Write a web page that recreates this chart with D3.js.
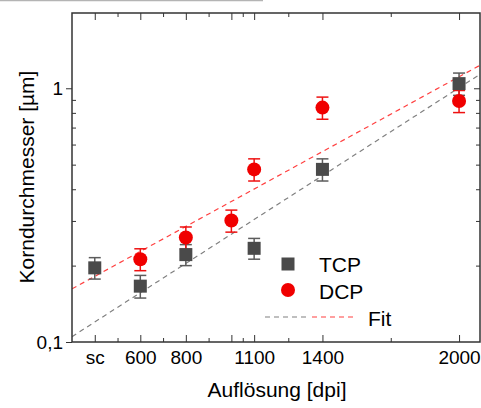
<!DOCTYPE html>
<meta charset="utf-8">
<title>Korndurchmesser</title>

<style>
    body { margin: 0; background: #fff; }
    text { font-family: Arial, "Liberation Sans", sans-serif; fill: #000; }
    .frame path, .frame line { stroke: #333; }
    .fit { fill: none; stroke-width: 1.2px; stroke-dasharray: 5,4; }
</style>

<body>
<script src="https://d3js.org/d3.v7.min.js"></script>

<script>
// data
var tcpDpi = [400, 600, 800, 1100, 1400, 2000];
var tcpVal = [0.196, 0.166, 0.221, 0.234, 0.479, 1.043];
var tcpErr = [0.019, 0.017, 0.021, 0.022, 0.048, 0.105];

var dcpDpi = [600, 800, 1000, 1100, 1400, 2000];
var dcpVal = [0.212, 0.258, 0.301, 0.479, 0.839, 0.891];
var dcpErr = [0.021, 0.026, 0.030, 0.048, 0.084, 0.089];

// fit lines (end points at the x range limits)
var fitDpi = [300, 2092];
var fitTcp = [0.105, 1.135];
var fitDcp = [0.162, 1.232];

var xTicks = [400, 600, 800, 1000, 1100, 1400, 2000];
var xTickLabels = ["sc", "600", "800", "", "1100", "1400", "2000"];
var xMinor = [500, 700, 900, 1050, 1250, 1700];
var yTicks = [0.1, 1];
var yTickLabels = ["0,1", "1"];
var yMinor = [0.2, 0.3, 0.4, 0.5, 0.6, 0.7, 0.8, 0.9];

// plot box
var W = 481, H = 408;
var pL = 72, pR = 480, pT = 13, pB = 342;

var svg = d3.select("body").append("svg")
    .attr("width", W)
    .attr("height", H);

var x = d3.scaleLinear().domain([300, 2092]).range([pL, pR]);
var y = d3.scaleLog().domain([0.1, 1.98]).range([pB, pT]);

// leftover grey line at the very top
svg.append("line")
    .attr("x1", 0).attr("x2", 263)
    .attr("y1", 0.5).attr("y2", 0.5)
    .style("stroke", "#b4b4b4")
    .style("stroke-width", 1.5);

// clip for the fit lines
svg.append("clipPath").attr("id", "plot")
  .append("rect")
    .attr("x", pL).attr("y", pT)
    .attr("width", pR - pL).attr("height", pB - pT);

// fit lines
var fitLine = d3.line()
    .x(function(d) { return x(d[0]); })
    .y(function(d) { return y(d[1]); });

svg.append("path")
    .attr("class", "fit")
    .attr("clip-path", "url(#plot)")
    .style("stroke", "#808080")
    .attr("d", fitLine(d3.zip(fitDpi, fitTcp)));

svg.append("path")
    .attr("class", "fit")
    .attr("clip-path", "url(#plot)")
    .style("stroke", "#ff4040")
    .attr("d", fitLine(d3.zip(fitDpi, fitDcp)));

// error bars
function errorBars(dpi, val, err, colour) {
    var g = svg.append("g").style("stroke", colour).style("stroke-width", 1.5);
    dpi.forEach(function(d, i) {
        var cx = x(d), y0 = y(val[i] - err[i]), y1 = y(val[i] + err[i]);
        g.append("line").attr("x1", cx).attr("x2", cx).attr("y1", y0).attr("y2", y1);
        g.append("line").attr("x1", cx - 6).attr("x2", cx + 6).attr("y1", y0).attr("y2", y0);
        g.append("line").attr("x1", cx - 6).attr("x2", cx + 6).attr("y1", y1).attr("y2", y1);
    });
}
errorBars(tcpDpi, tcpVal, tcpErr, "#5c5c5c");
errorBars(dcpDpi, dcpVal, dcpErr, "#ee1111");

// TCP squares
svg.selectAll(".sq")
    .data(d3.zip(tcpDpi, tcpVal))
    .enter().append("rect")
    .attr("class", "sq")
    .attr("x", function(d) { return x(d[0]) - 6.5; })
    .attr("y", function(d) { return y(d[1]) - 6.5; })
    .attr("width", 13).attr("height", 13)
    .style("fill", "#4a4a4a");

// DCP circles
svg.selectAll(".dot")
    .data(d3.zip(dcpDpi, dcpVal))
    .enter().append("circle")
    .attr("class", "dot")
    .attr("r", 7)
    .attr("cx", function(d) { return x(d[0]); })
    .attr("cy", function(d) { return y(d[1]); })
    .style("fill", "#f00000");

// frame
svg.append("rect")
    .attr("x", pL).attr("y", pT)
    .attr("width", pR - pL).attr("height", pB - pT)
    .style("fill", "none")
    .style("stroke", "#333")
    .style("stroke-width", 1.5);

// bottom axis (ticks inward)
var xAxis = svg.append("g")
    .attr("class", "frame")
    .attr("transform", "translate(0," + pB + ")")
    .call(d3.axisBottom(x).tickValues(xTicks).tickSize(-7).tickPadding(9)
        .tickFormat(function(d, i) { return xTickLabels[i]; }));
xAxis.select(".domain").remove();
xAxis.selectAll("text").style("font-size", "19px");

var xAxisMinor = svg.append("g")
    .attr("class", "frame")
    .attr("transform", "translate(0," + pB + ")")
    .call(d3.axisBottom(x).tickValues(xMinor).tickSize(-4).tickFormat(""));
xAxisMinor.select(".domain").remove();

// top axis (ticks inward, no labels)
var xTop = svg.append("g")
    .attr("class", "frame")
    .attr("transform", "translate(0," + pT + ")")
    .call(d3.axisTop(x).tickValues(xTicks).tickSize(-7).tickFormat(""));
xTop.select(".domain").remove();
var xTopMinor = svg.append("g")
    .attr("class", "frame")
    .attr("transform", "translate(0," + pT + ")")
    .call(d3.axisTop(x).tickValues(xMinor).tickSize(-4).tickFormat(""));
xTopMinor.select(".domain").remove();

// left axis: major ticks out, minor ticks in
var yAxis = svg.append("g")
    .attr("class", "frame")
    .attr("transform", "translate(" + pL + ",0)")
    .call(d3.axisLeft(y).tickValues(yTicks).tickSize(6).tickPadding(3)
        .tickFormat(function(d, i) { return yTickLabels[i]; }));
yAxis.select(".domain").remove();
yAxis.selectAll("text").style("font-size", "19px");

var yAxisMinor = svg.append("g")
    .attr("class", "frame")
    .attr("transform", "translate(" + pL + ",0)")
    .call(d3.axisLeft(y).tickValues(yMinor).tickSize(-4).tickFormat(""));
yAxisMinor.select(".domain").remove();

// right axis (ticks inward)
var yRight = svg.append("g")
    .attr("class", "frame")
    .attr("transform", "translate(" + pR + ",0)")
    .call(d3.axisRight(y).tickValues([1]).tickSize(-6).tickFormat(""));
yRight.select(".domain").remove();
var yRightMinor = svg.append("g")
    .attr("class", "frame")
    .attr("transform", "translate(" + pR + ",0)")
    .call(d3.axisRight(y).tickValues(yMinor).tickSize(-4).tickFormat(""));
yRightMinor.select(".domain").remove();

// axis titles
svg.append("text")
    .attr("x", 277)
    .attr("y", 397)
    .attr("text-anchor", "middle")
    .style("font-size", "21px")
    .text("Auflösung [dpi]");

svg.append("text")
    .attr("transform", "translate(34,177) rotate(-90)")
    .attr("text-anchor", "middle")
    .style("font-size", "21px")
    .text("Korndurchmesser [µm]");

// legend
var leg = svg.append("g");
leg.append("rect")
    .attr("x", 281.5).attr("y", 257.5)
    .attr("width", 13).attr("height", 13)
    .style("fill", "#4a4a4a");
leg.append("text")
    .attr("x", 319).attr("y", 272)
    .style("font-size", "21px")
    .text("TCP");
leg.append("circle")
    .attr("cx", 288).attr("cy", 290).attr("r", 7)
    .style("fill", "#f00000");
leg.append("text")
    .attr("x", 319).attr("y", 299)
    .style("font-size", "21px")
    .text("DCP");
leg.append("line")
    .attr("class", "fit")
    .attr("x1", 265).attr("x2", 310).attr("y1", 317).attr("y2", 317)
    .style("stroke", "#808080");
leg.append("line")
    .attr("class", "fit")
    .attr("x1", 312).attr("x2", 357).attr("y1", 317).attr("y2", 317)
    .style("stroke", "#ff4040");
leg.append("text")
    .attr("x", 368).attr("y", 326)
    .style("font-size", "21px")
    .text("Fit");
</script>
</body>
